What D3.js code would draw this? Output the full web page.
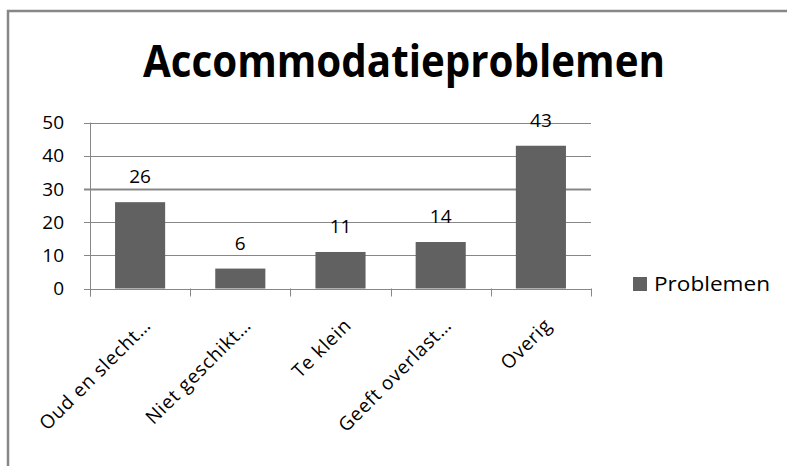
<!DOCTYPE html>
<html>
<head>
<meta charset="utf-8">
<script src="https://cdn.jsdelivr.net/npm/d3@7"></script>
<style>
  body { margin: 0; background: #fff; }
  svg text { font-family: "Open Sans", sans-serif; fill: #000; }
</style>
</head>
<body>
<div id="chart"></div>
<script>
// data
const categories = ["Oud en slecht…", "Niet geschikt…", "Te klein", "Geeft overlast…", "Overig"]
const values = [26, 6, 11, 14, 43]
const yTicks = [0, 10, 20, 30, 40, 50]
const seriesName = "Problemen"
const title = "Accommodatieproblemen"

const width = 787, height = 466
const plot = { left: 90, right: 591, top: 122.5, bottom: 288.5 }

const svg = d3.select("#chart").append("svg")
  .attr("width", width)
  .attr("height", height)

// outer frame (runs off the right and bottom of the picture)
svg.append("path")
  .attr("d", `M8,${height + 5}V11H${width + 5}`)
  .attr("fill", "none")
  .attr("stroke", "#878787")
  .attr("stroke-width", 2.5)

svg.append("text")
  .attr("x", 143)
  .attr("y", 77)
  .attr("textLength", 522)
  .attr("lengthAdjust", "spacingAndGlyphs")
  .style("font-size", "44px")
  .style("font-weight", "bold")
  .text(title)

const x = d3.scaleBand()
  .domain(categories)
  .range([plot.left, plot.right])
  .paddingInner(0.5)
  .paddingOuter(0.25)

const xTickScale = d3.scaleLinear()
  .domain([0, categories.length])
  .range([plot.left, plot.right])

const y = d3.scaleLinear()
  .domain([0, 50])
  .range([plot.bottom, plot.top])

// gridlines
svg.append("g")
  .selectAll("line")
  .data(yTicks)
  .join("line")
    .attr("x1", plot.left - 6)
    .attr("x2", plot.right)
    .attr("y1", d => Math.round(y(d)) + 0.5)
    .attr("y2", d => Math.round(y(d)) + 0.5)
    .attr("stroke", "#878787")
    .attr("stroke-width", d => d === 30 ? 2 : 1)

// y axis line
svg.append("line")
  .attr("x1", plot.left + 0.5).attr("x2", plot.left + 0.5)
  .attr("y1", plot.top).attr("y2", plot.bottom + 8)
  .attr("stroke", "#878787")

// x tick marks
svg.append("g")
  .selectAll("line")
  .data(d3.range(categories.length + 1))
  .join("line")
    .attr("x1", d => Math.round(xTickScale(d)) + 0.5)
    .attr("x2", d => Math.round(xTickScale(d)) + 0.5)
    .attr("y1", plot.bottom)
    .attr("y2", plot.bottom + 8)
    .attr("stroke", "#878787")

// y tick labels
svg.append("g")
  .selectAll("text")
  .data(yTicks)
  .join("text")
    .attr("x", 64)
    .attr("y", d => y(d))
    .attr("dy", "0.35em")
    .attr("text-anchor", "end")
    .style("font-size", "19px")
    .text(d => d)

// bars
svg.append("g")
  .selectAll("rect")
  .data(values)
  .join("rect")
    .attr("x", (d, i) => x(categories[i]))
    .attr("width", x.bandwidth())
    .attr("y", d => y(d))
    .attr("height", d => y(0) - y(d))
    .attr("fill", "#616161")

// value labels
svg.append("g")
  .selectAll("text")
  .data(values)
  .join("text")
    .attr("x", (d, i) => x(categories[i]) + x.bandwidth() / 2)
    .attr("y", d => y(d) - 19)
    .attr("text-anchor", "middle")
    .style("font-size", "19px")
    .text(d => d)

// category labels, rotated
svg.append("g")
  .selectAll("text")
  .data(categories)
  .join("text")
    .attr("transform", d => `translate(${x(d) + x.bandwidth() / 2 + 12},${plot.bottom + 38}) rotate(-45)`)
    .attr("text-anchor", "end")
    .style("font-size", "19px")
    .style("letter-spacing", "0.8px")
    .text(d => d)

// legend
const legend = svg.append("g").attr("transform", "translate(633,277)")
legend.append("rect")
  .attr("width", 14).attr("height", 14)
  .attr("fill", "#616161")
legend.append("text")
  .attr("x", 21).attr("y", 7)
  .attr("dy", "0.35em")
  .attr("textLength", 116)
  .attr("lengthAdjust", "spacingAndGlyphs")
  .style("font-size", "20px")
  .text(seriesName)
</script>
</body>
</html>
